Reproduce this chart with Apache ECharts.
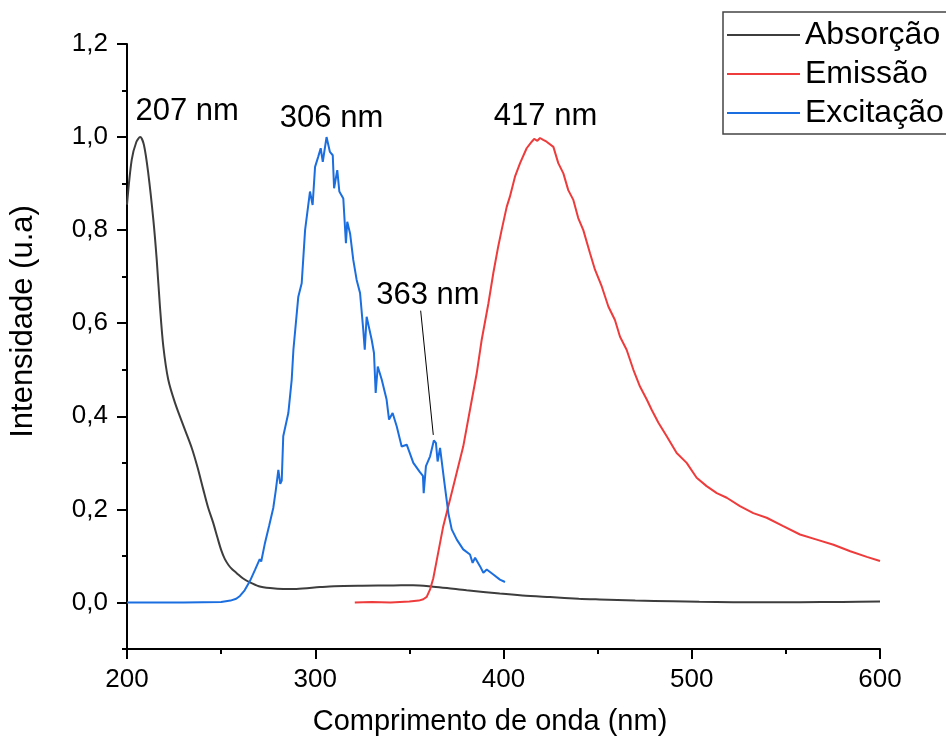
<!DOCTYPE html>
<html>
<head>
<meta charset="utf-8">
<script src="https://cdn.jsdelivr.net/npm/echarts@6/dist/echarts.min.js"></script>
<style>
  html, body { margin: 0; padding: 0; background: #fff; }
  #chart { width: 946px; height: 744px; }
</style>
</head>
<body>
<div id="chart"></div>
<script>
// Spectra: [wavelength (nm), normalised intensity]
const absorcao = [
  [200,0.855],[202.5,0.951],[205,0.990],[207,1.0],[209,0.983],[211.3,0.922],[214,0.822],
  [215.8,0.736],[217.5,0.636],[219.3,0.55],[221.9,0.479],[225.5,0.429],[230.8,0.371],
  [234.4,0.332],[237.5,0.29],[240.5,0.243],[243,0.205],[245.8,0.171],[248,0.14],
  [250,0.113],[252,0.093],[254,0.08],[256,0.071],[258.3,0.063],[261.5,0.052],
  [265.3,0.043],[270,0.035],[276,0.031],[283,0.029],[290,0.029],
  [302.5,0.033],[310,0.035],[325,0.036],[341.5,0.0365],[352,0.037],[362.7,0.034],
  [370,0.031],[380.4,0.026],[398,0.019],[410,0.015],[424.7,0.0115],[440,0.008],
  [451,0.0064],[470,0.004],[490,0.0025],[504,0.0015],[522,0.0006],[540,0.0005],
  [557.5,0.0006],[580,0.0012],[600,0.002]
];

const excitacao = [
  [200,0],[230,0],[250,0.001],[255,0.004],[258,0.008],[260,0.014],[262.5,0.026],
  [265.3,0.046],[268,0.07],[270.5,0.093],[271.3,0.088],[273.3,0.128],[275.5,0.165],
  [277.7,0.203],[279,0.24],[280.4,0.285],[281.4,0.255],[282.2,0.262],[283,0.357],
  [285.7,0.407],[287.5,0.479],[288.4,0.543],[291,0.657],[292.8,0.686],[294.6,0.8],
  [297.2,0.883],[298.6,0.854],[299.9,0.936],[301.6,0.958],[302.9,0.976],[304,0.947],
  [306,1.0],[307.8,0.968],[309.3,0.961],[310,0.89],[311.7,0.929],[312.8,0.883],
  [314.9,0.868],[316.3,0.772],[317,0.818],[318.5,0.793],[320.2,0.736],[322,0.693],
  [323.8,0.665],[325.5,0.586],[326.3,0.543],[327.3,0.614],[330,0.564],[331.2,0.536],
  [332.1,0.45],[333.2,0.507],[335.3,0.479],[337.9,0.436],[339.2,0.393],[341.1,0.407],
  [343.3,0.378],[345.9,0.335],[348.6,0.339],[352.1,0.3],[355.6,0.28],[357.2,0.272],
  [357.6,0.235],[358.8,0.293],[361,0.314],[363,0.348],[364.1,0.343],[365,0.303],
  [366.3,0.332],[368.4,0.264],[370.7,0.192],[372.5,0.157],[375.2,0.135],[378.6,0.114],
  [382.2,0.103],[383.6,0.085],[384.9,0.096],[387.5,0.078],[389.3,0.064],[391.1,0.071],
  [394.6,0.06],[398.1,0.049],[400.8,0.044]
];

const emissao = [
  [321,0],[330,0.001],[340,0],[350,0.002],[355,0.004],[357.4,0.007],[359.2,0.012],
  [361,0.028],[362.7,0.052],[364.5,0.09],[366.3,0.128],[368,0.164],[371.6,0.221],
  [375.1,0.278],[378.6,0.335],[382.2,0.414],[385.8,0.493],[388.4,0.564],[392,0.643],
  [394.6,0.708],[397.2,0.765],[399,0.8],[401.7,0.85],[403.4,0.872],[406.1,0.915],
  [408.8,0.944],[412.3,0.976],[415,0.99],[416.3,0.996],[417,1.0],[418,0.992],
  [419.4,0.998],[421.1,0.994],[422.9,0.99],[426.5,0.979],[429.1,0.944],[431.8,0.922],
  [434.4,0.886],[437.1,0.865],[439.7,0.826],[442.4,0.8],[446,0.75],[448.6,0.715],
  [452.2,0.679],[455.7,0.636],[459.2,0.607],[461.9,0.571],[465.4,0.543],[469,0.5],
  [472.5,0.464],[476.1,0.436],[478.7,0.414],[482.3,0.386],[486.7,0.357],[492,0.321],
  [497.3,0.3],[502.6,0.268],[507.9,0.25],[513.3,0.235],[518.6,0.225],[525.6,0.207],
  [532.7,0.192],[539.8,0.182],[548.6,0.164],[557.5,0.146],[566.4,0.135],[575.3,0.124],
  [584.2,0.11],[593,0.098],[600,0.089]
];

// Peak wavelengths that get a text label
const picoAbsorcao = [207, 1.0];
const picoExcitacao = [306, 1.0];
const picoExcitacao2 = [363, 0.348];
const picoEmissao = [417, 1.0];

// Axis ticks
const yMajor = [0, 0.2, 0.4, 0.6, 0.8, 1.0, 1.2];
const yMinor = [-0.1, 0.1, 0.3, 0.5, 0.7, 0.9, 1.1];

const FONT = 'Liberation Sans, Arial, sans-serif';
const nmLabel = v => v[0] + ' nm';

function peakMark(peak, offset) {
  return {
    symbol: 'circle',
    symbolSize: 0,
    silent: true,
    label: {
      show: true,
      position: 'inside',
      offset: offset,
      fontFamily: FONT,
      fontSize: 31,
      color: '#000',
      formatter: nmLabel(peak)
    },
    data: [{ coord: peak }]
  };
}

const chart = echarts.init(document.getElementById('chart'), null, { renderer: 'canvas' });

chart.setOption({
  animation: false,
  backgroundColor: '#fff',
  textStyle: { fontFamily: FONT },
  grid: { left: 127, right: 66, top: 44, bottom: 95, containLabel: false },
  legend: {
    orient: 'vertical',
    left: 723,
    top: 12,
    padding: [6, 24, 4, 4],
    itemGap: 5,
    itemWidth: 73,
    itemHeight: 2,
    icon: 'rect',
    borderColor: '#444',
    borderWidth: 1.5,
    textStyle: { fontFamily: FONT, fontSize: 32, color: '#000', lineHeight: 34 },
    data: ['Absorção', 'Emissão', 'Excitação']
  },
  xAxis: {
    type: 'value',
    min: 200,
    max: 600,
    interval: 100,
    name: 'Comprimento de onda (nm)',
    nameLocation: 'middle',
    nameGap: 58,
    nameTextStyle: { fontFamily: FONT, fontSize: 29, color: '#000', padding: [0, 27, 0, 0] },
    axisLine: { show: true, onZero: false, lineStyle: { color: '#000', width: 2 } },
    axisTick: { show: true, length: 10, lineStyle: { color: '#000', width: 2 } },
    minorTick: { show: true, splitNumber: 2, length: 5, lineStyle: { color: '#000', width: 2 } },
    axisLabel: { fontFamily: FONT, fontSize: 26, color: '#000', margin: 18 },
    splitLine: { show: false }
  },
  yAxis: [
    {
      type: 'value',
      min: -0.1,
      max: 1.2,
      position: 'left',
      name: 'Intensidade (u.a)',
      nameLocation: 'middle',
      nameGap: 88,
      nameTextStyle: { fontFamily: FONT, fontSize: 31, color: '#000', padding: [0, 0, 0, 50] },
      axisLine: { show: true, onZero: false, lineStyle: { color: '#000', width: 2 } },
      axisTick: { show: true, length: 10, customValues: yMajor, lineStyle: { color: '#000', width: 2 } },
      axisLabel: {
        fontFamily: FONT, fontSize: 26, color: '#000', margin: 19,
        customValues: yMajor,
        formatter: v => v.toFixed(1).replace('.', ',')
      },
      splitLine: { show: false }
    },
    {
      // short ticks halfway between labelled values
      type: 'value',
      min: -0.1,
      max: 1.2,
      position: 'left',
      axisLine: { show: false },
      axisTick: { show: true, length: 5, customValues: yMinor, lineStyle: { color: '#000', width: 2 } },
      axisLabel: { show: false },
      splitLine: { show: false }
    }
  ],
  series: [
    {
      name: 'Absorção',
      type: 'line',
      data: absorcao,
      smooth: 0.3,
      symbol: 'none',
      z: 2,
      lineStyle: { color: '#3d3d3d', width: 2 },
      itemStyle: { color: '#3d3d3d' },
      markPoint: peakMark(picoAbsorcao, [47, -26])
    },
    {
      name: 'Emissão',
      type: 'line',
      data: emissao,
      symbol: 'none',
      z: 3,
      lineStyle: { color: '#ee3b3b', width: 2 },
      itemStyle: { color: '#ee3b3b' },
      markPoint: peakMark(picoEmissao, [10, -21])
    },
    {
      name: 'Excitação',
      type: 'line',
      data: excitacao,
      symbol: 'none',
      z: 4,
      lineStyle: { color: '#1b6edf', width: 2 },
      itemStyle: { color: '#1b6edf' },
      markPoint: {
        symbol: 'circle',
        symbolSize: 0,
        silent: true,
        label: { show: true, position: 'inside', fontFamily: FONT, fontSize: 31, color: '#000' },
        data: [
          { coord: picoExcitacao, label: { formatter: nmLabel(picoExcitacao), offset: [5, -19] } },
          { coord: picoExcitacao2, label: { formatter: nmLabel(picoExcitacao2), offset: [-6, -145] } }
        ]
      },
      markLine: {
        silent: true,
        symbol: ['none', 'none'],
        label: { show: false },
        lineStyle: { color: '#000', width: 1, type: 'solid' },
        data: [[{ coord: [356, 0.627] }, { coord: [362.7, 0.36] }]]
      }
    }
  ]
});
</script>
</body>
</html>
